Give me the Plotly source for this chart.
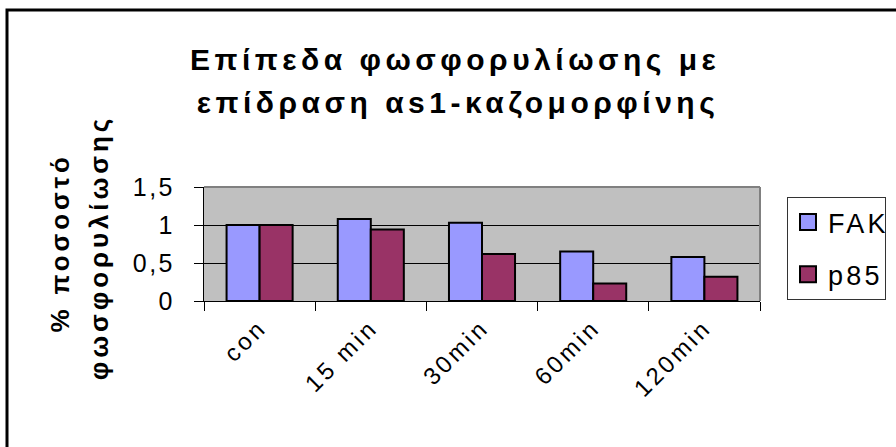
import plotly.graph_objects as go

# Phosphorylation levels (relative to control) after as1-casomorphin treatment
categories = ["con", "15 min", "30min", "60min", "120min"]
fak_values = [1.0, 1.08, 1.03, 0.65, 0.58]
p85_values = [1.0, 0.94, 0.62, 0.23, 0.32]
series_names = ["FAK", "p85"]
series_colors = ["#9999FF", "#993366"]
y_ticks = [0, 0.5, 1, 1.5]

title_lines = ["Επίπεδα φωσφορυλίωσης με", "επίδραση αs1-καζομορφίνης"]
ytitle_lines = ["% ποσοστό", "φωσφορυλίωσης"]

FONT = "Arial, 'Liberation Sans', sans-serif"
W, H = 896, 447
L, R, T, B = 204, 136, 187, 146
PW, PH = W - L - R, H - T - B


def px_x(x):
    return (x - L) / PW


def px_y(y):
    return (H - B - y) / PH


fig = go.Figure()

for name, vals, col in zip(series_names, [fak_values, p85_values], series_colors):
    fig.add_trace(go.Bar(
        x=categories, y=vals, name=name, showlegend=False,
        marker=dict(color=col, line=dict(color="black", width=2)),
    ))
    # legend entry with a larger square swatch
    fig.add_trace(go.Scatter(
        x=[None], y=[None], name=name, mode="markers", legendgroup=name,
        marker=dict(symbol="square", size=16, color=col,
                    line=dict(color="black", width=2)),
    ))

title_font = dict(family=FONT, size=30, color="black", weight="bold")
ytitle_font = dict(family=FONT, size=26, color="black", weight="bold")
annotations = [
    dict(text=title_lines[0], x=px_x(455), y=px_y(59), xref="paper", yref="paper",
         showarrow=False, xanchor="center", yanchor="middle", font=title_font),
    dict(text=title_lines[1], x=px_x(458), y=px_y(103), xref="paper", yref="paper",
         showarrow=False, xanchor="center", yanchor="middle", font=title_font),
    dict(text=ytitle_lines[0], x=px_x(60), y=px_y(243), xref="paper", yref="paper",
         showarrow=False, xanchor="center", yanchor="middle", textangle=-90,
         font=ytitle_font),
    dict(text=ytitle_lines[1], x=px_x(99), y=px_y(248), xref="paper", yref="paper",
         showarrow=False, xanchor="center", yanchor="middle", textangle=-90,
         font=ytitle_font),
]

shapes = [
    # outer chart frame
    dict(type="rect", xref="paper", yref="paper",
         x0=px_x(7), x1=px_x(915), y0=px_y(465), y1=px_y(10),
         line=dict(color="black", width=3), fillcolor="rgba(0,0,0,0)", layer="above"),
    # plot area top and right edges
    dict(type="line", xref="paper", yref="paper", x0=0, x1=1, y0=1, y1=1,
         line=dict(color="#808080", width=2), layer="above"),
    dict(type="line", xref="paper", yref="paper", x0=1, x1=1, y0=0, y1=1,
         line=dict(color="#808080", width=2), layer="above"),
]

fig.update_layout(
    width=W, height=H,
    margin=dict(l=L, r=R, t=T, b=B, autoexpand=False),
    paper_bgcolor="white", plot_bgcolor="#C0C0C0",
    separators=", ",
    barmode="group", bargap=0.406, bargroupgap=0,
    font=dict(family=FONT, color="black"),
    annotations=annotations,
    shapes=shapes,
    legend=dict(
        x=px_x(787), y=px_y(197), xanchor="left", yanchor="top",
        bgcolor="white", bordercolor="#333333", borderwidth=1,
        font=dict(family=FONT, size=27, color="black"),
        tracegroupgap=14, itemsizing="trace", entrywidth=110,
    ),
    xaxis=dict(
        type="category", tickson="boundaries", ticks="outside", ticklen=9,
        tickcolor="black", tickwidth=1, showline=True, linecolor="black",
        linewidth=1, tickangle=-45, showgrid=False,
        tickfont=dict(family=FONT, size=24, color="black"),
        ticklabelstandoff=2,
    ),
    yaxis=dict(
        range=[0, 1.5], tickvals=y_ticks, ticks="outside", ticklen=9,
        tickcolor="black", showline=True, linecolor="black", linewidth=1,
        showgrid=True, gridcolor="black", gridwidth=1, zeroline=False,
        tickfont=dict(family=FONT, size=25, color="black"),
        ticklabelstandoff=14,
    ),
)

# Excel-style tracking on chart text
post = (
    "var s=document.createElement('style');"
    "s.textContent='.main-svg .annotation-text{letter-spacing:0.15em}"
    " .main-svg .ytick text{letter-spacing:0.1em}"
    " .main-svg .xtick text{letter-spacing:0.13em}"
    " .main-svg .legendtext{letter-spacing:0.12em}';"
    "document.head.appendChild(s);"
)
fig.write_html("out.html", post_script=post)
